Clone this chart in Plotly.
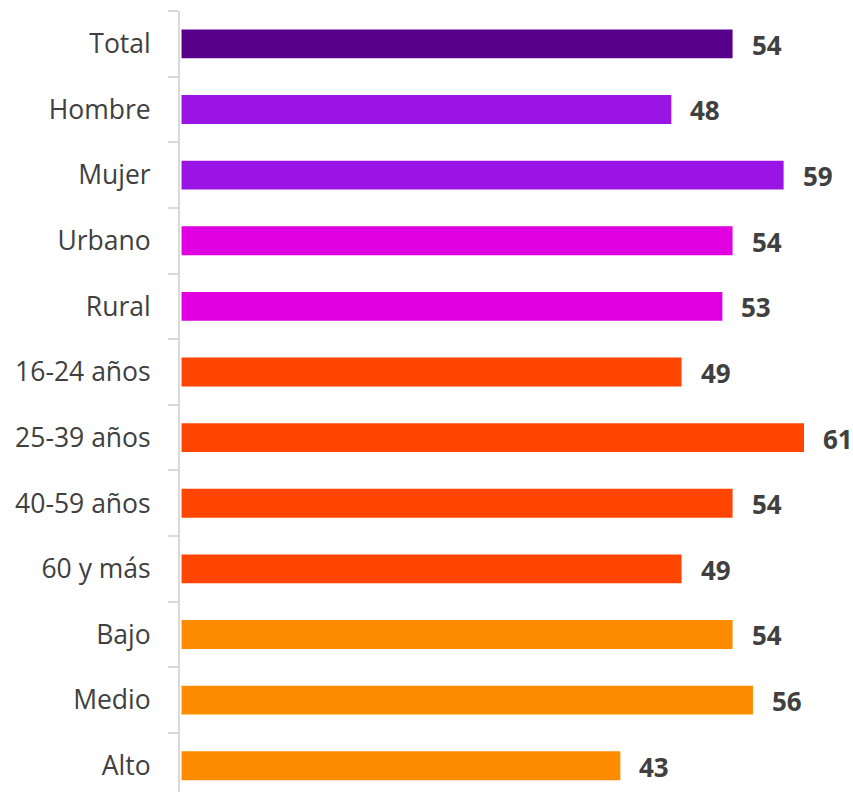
import plotly.graph_objects as go

categories = ["Total", "Hombre", "Mujer", "Urbano", "Rural", "16-24 años",
              "25-39 años", "40-59 años", "60 y más", "Bajo", "Medio", "Alto"]
values = [54, 48, 59, 54, 53, 49, 61, 54, 49, 54, 56, 43]
colors = ["#58008C", "#9B14E6", "#9B14E6", "#E100E1", "#E100E1",
          "#FF4500", "#FF4500", "#FF4500", "#FF4500",
          "#FF8C00", "#FF8C00", "#FF8C00"]

fig = go.Figure()
fig.add_trace(go.Bar(
    x=values, y=categories, orientation="h",
    marker=dict(color=colors, line=dict(width=0)),
    width=0.44, hoverinfo="skip",
))

# value labels just past the end of each bar
for cat, v in zip(categories, values):
    fig.add_annotation(
        x=v, y=cat, text=f"<b>{v}</b>", showarrow=False,
        xanchor="left", yanchor="middle", xshift=17, yshift=-1,
        font=dict(family="Open Sans", size=26, color="#404040"),
    )

fig.update_layout(
    width=853, height=792,
    margin=dict(l=180, r=0, t=11, b=0),
    plot_bgcolor="white", paper_bgcolor="white",
    showlegend=False,
    bargap=0.56,
)
fig.update_xaxes(range=[-0.15, 65.8], visible=False, showgrid=False, zeroline=False)
fig.update_yaxes(
    type="category", categoryorder="array", categoryarray=categories,
    range=[11.4, -0.5],
    showline=True, linecolor="#D9D9D9", linewidth=2,
    ticks="outside", tickson="boundaries", ticklen=10, tickcolor="#D9D9D9", tickwidth=2,
    showgrid=False, zeroline=False,
    tickfont=dict(family="Open Sans", size=26.5, color="#404040"),
    ticklabelstandoff=22,
)

fig.write_html("out.html")
